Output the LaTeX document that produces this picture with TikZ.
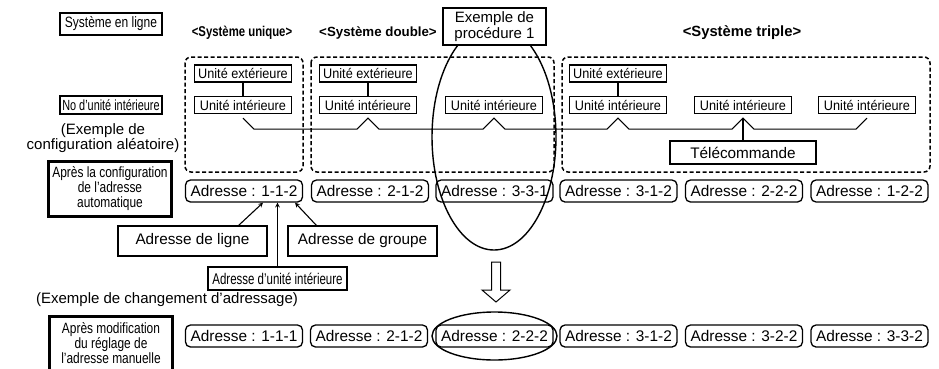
\documentclass[tikz,border=0pt]{standalone}
\usepackage{fontspec}
\setmainfont{Liberation Sans}
\newfontfamily\slimfont[FakeStretch=0.92]{Liberation Sans}
\newfontfamily\narrowfont[FakeStretch=0.8]{Liberation Sans}
\newfontfamily\condfont[FakeStretch=0.74]{Liberation Sans}
\usetikzlibrary{calc}

\begin{document}
\begin{tikzpicture}[x=1pt, y=-1pt, >=stealth,
  box/.style={draw, line width=1.3pt, fill=white, inner sep=0pt, align=center},
  unit/.style={box, minimum width=97pt, minimum height=17pt, font=\slimfont\fontsize{13.8}{14}\selectfont},
  addr/.style={box, rounded corners=5pt, minimum width=117pt, minimum height=22pt, font=\fontsize{15.4}{16}\selectfont},
  tag/.style={box, minimum width=102pt, font=\narrowfont\fontsize{15}{15}\selectfont},
  info/.style={box, minimum width=149pt, minimum height=30pt, font=\fontsize{15.3}{16}\selectfont},
  stage/.style={draw, line width=3pt, minimum width=123pt, minimum height=55pt, inner sep=0pt, align=center, font=\narrowfont\fontsize{14.9}{15}\selectfont},
  title/.style={font=\bfseries\fontsize{13.8}{15}\selectfont},
  note/.style={align=center, font=\fontsize{15}{15}\selectfont},
  group/.style={draw, dash pattern=on 4pt off 2.5pt, line width=1.5pt, rounded corners=6pt},
  wire/.style={line width=1.1pt},
  ring/.style={draw, line width=1.4pt}
]
  \useasboundingbox (0,0) rectangle (939,368);

  \node[tag, minimum height=22pt] (ligne) at (111,24) {Système en ligne};
  \node[tag, minimum height=18pt, font=\condfont\fontsize{14.7}{15}\selectfont] (nounit) at (111,105) {No d’unité intérieure};
  \node[note] (alea) at (103,138) {(Exemple de\\configuration aléatoire)};
  \node[stage] (auto) at (110,189) {Après la configuration\\de l’adresse\\automatique};
  \node[stage] (manu) at (111,343.5) {Après modification\\du réglage de\\l’adresse manuelle};
  \node[note] (chgt) at (167,300) {(Exemple de changement d’adressage)};

  \node[title, font=\narrowfont\bfseries\fontsize{14.2}{15}\selectfont] (tunique) at (242,33) {<Système unique>};
  \node[title, font=\bfseries\fontsize{13.3}{15}\selectfont] (tdouble) at (378,33) {<Système double>};
  \node[title, font=\bfseries\fontsize{14.8}{15}\selectfont] (ttriple) at (742,33) {<Système triple>};

  \draw[group] (185,57) rectangle (303,172);
  \draw[group] (311,57) rectangle (554,172);
  \draw[group] (562,57) rectangle (930,172);

  \node[unit] (ext1) at (243,73.5) {Unité extérieure};
  \node[unit] (ext2) at (368,73.5) {Unité extérieure};
  \node[unit] (ext3) at (618,73.5) {Unité extérieure};
  \foreach \x [count=\i] in {243,368,494,618,743,867}
    \node[unit] (int\i) at (\x,105) {Unité intérieure};
  \foreach \i/\j in {1/1,2/2,3/4}
    \draw[wire] (ext\i) -- (int\j);

  \draw[wire] ([yshift=-4pt]int1.south) -- ++(11,11)
    \foreach \n in {2,...,5} {
      -- ([xshift=-11pt,yshift=-15pt]int\n.south) -- ([yshift=-4pt]int\n.south)
      -- ([xshift=11pt,yshift=-15pt]int\n.south) }
    -- ([xshift=-11pt,yshift=-15pt]int6.south) -- ([yshift=-4pt]int6.south);

  \node[box, line width=2.2pt, minimum width=146pt, minimum height=23pt, font=\fontsize{15.3}{16}\selectfont] (tele) at (743,152.5) {Télécommande};
  \draw[wire] ([yshift=-4pt]int5.south) -- (tele);

  \foreach \x/\t [count=\i] in {244/1-1-2, 370/2-1-2, 494.5/3-3-1, 618.5/3-1-2, 744/2-2-2, 869.5/1-2-2}
    \node[addr] (a\i) at (\x,191) {Adresse : \t};
  \foreach \x/\t [count=\i] in {244/1-1-1, 369/2-1-2, 494.5/2-2-2, 618.5/3-1-2, 744/3-2-2, 869.5/3-3-2}
    \node[addr] (b\i) at (\x,336) {Adresse : \t};

  \node[info] (lignebox) at (192.5,241) {Adresse de ligne};
  \node[info] (grpbox) at (362.5,241) {Adresse de groupe};
  \node[box, minimum width=139pt, minimum height=23pt, font=\condfont\fontsize{15.5}{15}\selectfont] (iubox) at (277.5,278.5) {Adresse d’unité intérieure};

  \draw[->, wire] ([xshift=-29pt]lignebox.north east) -- ([xshift=19pt]a1.south);
  \draw[->, wire] ([xshift=29pt]grpbox.north west) -- ([xshift=51pt]a1.south);
  \draw[->, wire] (iubox.north) -- (iubox.north |- a1.south);

  \draw[ring] (494,137) ellipse [x radius=62pt, y radius=113pt];
  \node[box, minimum width=103pt, minimum height=37pt, font=\fontsize{15}{16}\selectfont] (proc) at (494.5,26.5) {Exemple de\\procédure 1};

  \draw[line width=1pt] (491.5,262) -- (500.5,262) -- (500.5,290) -- (510,290) -- (496,302) -- (482,290) -- (491.5,290) -- cycle;
  \draw[ring] (b3) ellipse [x radius=62.5pt, y radius=24pt];
\end{tikzpicture}
\end{document}
